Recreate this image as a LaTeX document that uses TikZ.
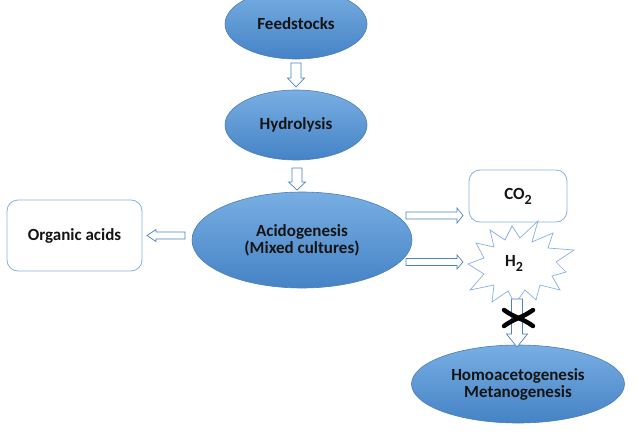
\documentclass[tikz,border=0pt]{standalone}
\usepackage{fontspec}
\setmainfont{Carlito}
\usetikzlibrary{shapes.geometric}
\definecolor{elltop}{HTML}{78AEE2}
\definecolor{ellbot}{HTML}{4583C6}
\definecolor{elledge}{HTML}{4A7EBB}
\definecolor{boxedge}{HTML}{8AB0DE}
\definecolor{arredge}{HTML}{4F81BD}
\definecolor{txt}{HTML}{151515}
\tikzset{
  stage/.style={ellipse, top color=elltop, bottom color=ellbot, draw=elledge, line width=0.6pt,
    text=txt, font=\fontsize{17}{17}\selectfont\bfseries, align=center, inner sep=0pt},
  outbox/.style={rectangle, rounded corners=11pt, draw=boxedge, line width=0.8pt, fill=white,
    text=txt, font=\fontsize{17}{17}\selectfont\bfseries, align=center},
  blockarr/.style={draw=arredge, fill=white, line width=0.7pt, line join=miter},
}
\newcommand\subtwo{\raisebox{-5pt}{\fontsize{14}{14}\selectfont\bfseries 2}}
% #1,#2 tail centre, #3 angle, #4 length, #5 shaft half width, #6 head half width, #7 head length
\newcommand\blkarrow[7]{%
  \draw[blockarr, shift={(#1,#2)}, rotate=#3]
    (0,-#5) -- (#4-#7,-#5) -- (#4-#7,-#6) -- (#4,0) -- (#4-#7,#6) -- (#4-#7,#5) -- (0,#5) -- cycle;}
\begin{document}
\begin{tikzpicture}[x=1pt,y=-1pt]
\useasboundingbox (0,0) rectangle (638,432);
\clip (0,0) rectangle (638,432);

% ellipses
\node[stage, minimum width=142pt, minimum height=70pt] (feed) at (296,24) {Feedstocks};
\node[stage, minimum width=142pt, minimum height=70pt] (hyd) at (296,125) {Hydrolysis};
\node[stage, minimum width=220pt, minimum height=96pt] (acid) at (302,240) {Acidogenesis\\(Mixed cultures)};
\node[stage, minimum width=213pt, minimum height=78pt] (homo) at (518,384) {Homoacetogenesis\\Metanogenesis};

% boxes
\node[outbox, minimum width=135pt, minimum height=71pt] (org) at (74.5,235.5) {Organic acids};
\node[outbox, minimum width=98pt, minimum height=52pt] (co2) at (518,196) {CO\subtwo};

% H2 starburst
\coordinate (h2c) at (517,262);
\draw[draw=boxedge, fill=white, line width=0.7pt, line join=miter]
  (538,221) -- (532,242) -- (553,233) -- (548,248) -- (574,250) -- (556,262) -- (566,272)
  -- (552,276) -- (560,290) -- (540,285) -- (536,300) -- (525,290) -- (515,304) -- (508,291)
  -- (492,302) -- (494,285) -- (470,290) -- (484,274) -- (468,264) -- (484,258) -- (476,243)
  -- (494,247) -- (490,230) -- (505,240) -- (512,226) -- (520,238) -- cycle;
\node[text=txt, font=\fontsize{17}{17}\selectfont\bfseries] (h2) at (514,263) {H\subtwo};

% block arrows
\blkarrow{296}{63}{-90}{24}{5}{8.5}{9}
\blkarrow{297}{168}{-90}{22}{5}{8.5}{8}
\blkarrow{185}{235.5}{180}{38}{3.5}{6}{9}
\blkarrow{406}{215.5}{0}{57}{3.5}{7.5}{6}
\blkarrow{406}{262}{0}{57}{3.5}{7}{6}
\blkarrow{517}{299}{-90}{48}{5.5}{10.5}{13}

% cross
\coordinate (xc) at (518,318);
\draw[black, line width=4.5pt, line cap=round] (504,310) .. controls (515,318) and (522,318) .. (533,326);
\draw[black, line width=4.5pt, line cap=round] (504,326) .. controls (515,318) and (522,318) .. (533,310);
\end{tikzpicture}
\end{document}
